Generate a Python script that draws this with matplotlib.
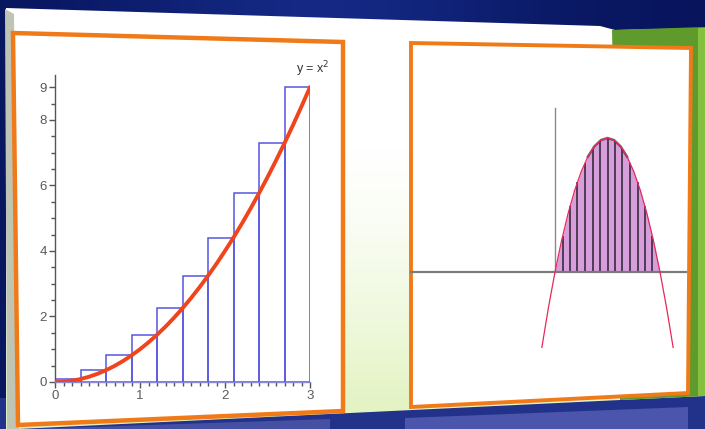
import numpy as np
import matplotlib
matplotlib.use("Agg")
import matplotlib.pyplot as plt
from matplotlib.patches import Polygon

# ---------------- data ----------------
# left chart: y = x^2 on [0, 3] with right-endpoint rectangles
rect_left = [0.0, 0.3, 0.6, 0.9, 1.2, 1.5, 1.8, 2.1, 2.4, 2.7]
rect_height = [0.09, 0.36, 0.81, 1.44, 2.25, 3.24, 4.41, 5.76, 7.29, 9.0]
curve_x = [0.0, 0.1, 0.2, 0.3, 0.4, 0.5, 0.6, 0.7, 0.8, 0.9, 1.0, 1.1, 1.2, 1.3, 1.4, 1.5,
           1.6, 1.7, 1.8, 1.9, 2.0, 2.1, 2.2, 2.3, 2.4, 2.5, 2.6, 2.7, 2.8, 2.9, 3.0]
curve_y = [0.0, 0.01, 0.04, 0.09, 0.16, 0.25, 0.36, 0.49, 0.64, 0.81, 1.0, 1.21, 1.44, 1.69,
           1.96, 2.25, 2.56, 2.89, 3.24, 3.61, 4.0, 4.41, 4.84, 5.29, 5.76, 6.25, 6.76, 7.29,
           7.84, 8.41, 9.0]
y_ticks = [0, 2, 4, 6, 8, 9]
y_ticklabels = ["0", "2", "4", "6", "8", "9"]
x_ticks = [0, 1, 2, 3]
x_ticklabels = ["0", "1", "2", "3"]
curve_label = "y = x$^2$"

# right chart: downward parabola with shaded area and vertical strips
para_x = [-0.5, -0.25, 0.0, 0.25, 0.5, 0.75, 1.0, 1.25, 1.5, 1.75, 2.0, 2.25, 2.5, 2.75,
          3.0, 3.25, 3.5, 3.75, 4.0, 4.25, 4.5]
para_y = [-2.25, -1.0625, 0.0, 0.9375, 1.75, 2.4375, 3.0, 3.4375, 3.75, 3.9375, 4.0, 3.9375,
          3.75, 3.4375, 3.0, 2.4375, 1.75, 0.9375, 0.0, -1.0625, -2.25]
strip_x = [0.286, 0.571, 0.857, 1.143, 1.429, 1.714, 2.0, 2.286, 2.571, 2.857, 3.143, 3.429, 3.714]
strip_h = [1.061, 1.959, 2.694, 3.265, 3.673, 3.918, 4.0, 3.918, 3.673, 3.265, 2.694, 1.959, 1.061]

W, H = 705, 429
fig = plt.figure(figsize=(W / 100, H / 100), dpi=100)

# ---------------- background (pixel coords) ----------------
bg = fig.add_axes([0, 0, 1, 1])
bg.set_xlim(0, W)
bg.set_ylim(H, 0)
bg.axis("off")

grad = np.linspace(0, 1, 256)
navy = np.zeros((2, 256, 3))
c1 = np.array([0.03, 0.08, 0.36])
c2 = np.array([0.08, 0.16, 0.52])
mix = np.exp(-((grad - 0.45) / 0.3) ** 2)
for i in range(2):
    navy[i] = c1 + (c2 - c1) * mix[:, None]
bg.imshow(navy, extent=[0, W, H, 0], aspect="auto", zorder=0)

# bottom reflection area
bg.add_patch(Polygon([(0, 398), (W, 394), (W, H), (0, H)], closed=True,
                     facecolor="#22318a", edgecolor="none", zorder=1))
bg.add_patch(Polygon([(30, 429), (330, 419), (330, H), (30, H)], closed=True,
                     facecolor="#4650a3", edgecolor="none", zorder=1))
bg.add_patch(Polygon([(405, 418), (688, 407), (688, H), (405, H)], closed=True,
                     facecolor="#4a55ab", edgecolor="none", zorder=1))

# slide body with white -> light green gradient
slide_poly = [(6, 8), (600, 26), (615, 30), (705, 28), (705, 396), (620, 400), (18, 429), (6, 429)]
slide = Polygon(slide_poly, closed=True, facecolor="none", edgecolor="none", zorder=2)
bg.add_patch(slide)
g = np.linspace(0, 1, 256)
top = np.array([1.0, 1.0, 1.0])
bot = np.array([0.88, 0.95, 0.74])
t = np.clip((g - 0.35) / 0.65, 0, 1) ** 1.3
col = top + (bot - top) * t[:, None]
img = np.repeat(col[:, None, :], 2, axis=1)
im = bg.imshow(img, extent=[0, W, H, 0], aspect="auto", zorder=2)
im.set_clip_path(slide)

# green strip at right
bg.add_patch(Polygon([(612, 30), (705, 27), (705, 396), (620, 400)], closed=True,
                     facecolor="#5e9a2c", edgecolor="none", zorder=3))
bg.add_patch(Polygon([(698, 28), (705, 28), (705, 396), (698, 396)], closed=True,
                     facecolor="#86c040", edgecolor="none", zorder=3))
# left gray bevel
bg.add_patch(Polygon([(5, 9), (14, 14), (19, 429), (7, 429)], closed=True,
                     facecolor="#bfc4b4", edgecolor="none", zorder=3))

# panels
left_panel = [(13, 33), (343, 42), (343, 411), (18, 425)]
right_panel = [(411, 43), (691, 48), (688, 393), (411, 407)]
for poly, lw in ((left_panel, 3.2), (right_panel, 2.8)):
    bg.add_patch(Polygon(poly, closed=True, facecolor="white", edgecolor="#f07a18",
                         linewidth=lw, zorder=4))

# ---------------- left chart ----------------
def px_axes(x0, x1, y_top, y_bot):
    return [x0 / W, (H - y_bot) / H, (x1 - x0) / W, (y_bot - y_top) / H]

axL = fig.add_axes(px_axes(55, 310, 75, 382))
axL.patch.set_alpha(0)
axL.set_xlim(0, 3)
axL.set_ylim(0, 9.37)
for s in ("top", "right"):
    axL.spines[s].set_visible(False)
axL.spines["left"].set_color("#555555")
axL.spines["bottom"].set_color("#8888dd")
axL.spines["left"].set_linewidth(1.0)
axL.spines["bottom"].set_linewidth(1.0)

axL.bar(rect_left, rect_height, width=0.3, align="edge", facecolor="none",
        edgecolor="#5656e2", linewidth=1.1, zorder=2)
axL.plot(curve_x, curve_y, color="#f0441c", linewidth=2.8, zorder=3, solid_capstyle="round")
axL.text(3.03, 9.25, curve_label, ha="center", va="bottom", fontsize=9, color="#333333",
         family="Liberation Sans")

axL.set_yticks(y_ticks)
axL.set_yticklabels(y_ticklabels)
axL.set_yticks(np.arange(0, 9.01, 0.5), minor=True)
axL.set_xticks(x_ticks)
axL.set_xticklabels(x_ticklabels)
axL.set_xticks(np.arange(0, 3.01, 0.1), minor=True)
axL.tick_params(axis="both", which="major", length=4, width=1, color="#555555",
                labelcolor="#5a5a5a", labelsize=9.5, pad=2)
axL.tick_params(axis="both", which="minor", length=3, width=1, color="#555555")
for lab in axL.get_xticklabels() + axL.get_yticklabels():
    lab.set_family("Liberation Sans")

# ---------------- right chart ----------------
xr0, xr1 = (414 - 555) / 26.25, (686 - 555) / 26.25
yr0, yr1 = (272 - 404) / 33.5, (272 - 50) / 33.5
axR = fig.add_axes(px_axes(414, 686, 50, 404))
axR.patch.set_alpha(0)
axR.set_xlim(xr0, xr1)
axR.set_ylim(yr0, yr1)
axR.axis("off")

px_ = np.array(para_x)
py_ = np.array(para_y)
mask = (px_ >= 0) & (px_ <= 4)
axR.fill_between(px_[mask], 0, py_[mask], color="#d69fdb", zorder=1, linewidth=0)
axR.vlines(strip_x, 0, strip_h, color="#3a2a40", linewidth=1.2, zorder=2)
axR.plot([xr0 - 0.1, xr1], [0, 0], color="#7a7a7a", linewidth=1.6, zorder=3, clip_on=False)
axR.plot([0, 0], [0, (272 - 108) / 33.5], color="#8a8a8a", linewidth=1.0, zorder=3)
top_mask = (px_ >= 1.25) & (px_ <= 2.75)
axR.plot(px_[top_mask], py_[top_mask], color="#333333", linewidth=1.8, zorder=3, alpha=0.7)
axR.plot(para_x, para_y, color="#e8285a", linewidth=0.9, zorder=4)

fig.savefig("out.png", dpi=100)
